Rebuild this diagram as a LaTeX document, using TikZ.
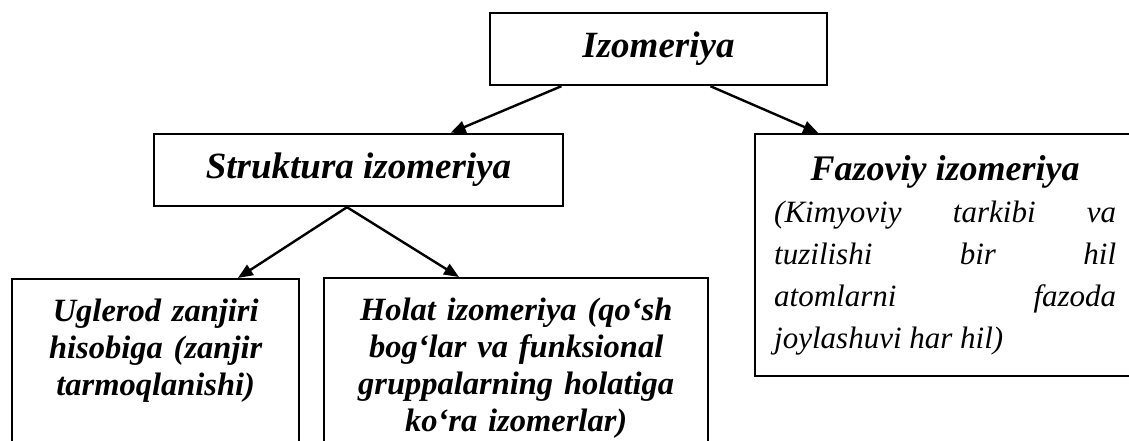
\documentclass[tikz,border=0pt]{standalone}
\usepackage{fontspec}
\setmainfont{Liberation Serif}
\usetikzlibrary{arrows.meta, calc}

\begin{document}
\begin{tikzpicture}[
  x=1pt, y=-1pt,
  box/.style={rectangle, draw=black, line width=2.4pt, inner sep=0pt, align=center, font=\bfseries\itshape\fontsize{37}{42}\selectfont},
  leaf/.style={rectangle, draw=black, line width=2.4pt, anchor=north west, inner xsep=18.5pt, inner ysep=20pt, align=center, text depth=150pt, font=\bfseries\itshape\fontsize{32.5}{37}\selectfont},
  arrow/.style={-{Triangle[length=15pt,width=12pt]}, line width=2.4pt}
]
  \useasboundingbox (0,0) rectangle (1129,441);
  \clip (0,0) rectangle (1129,441);

  % Nodes
  \node[box, minimum width=337pt, minimum height=72pt] (izo) at (658.5,49) {Izomeriya};
  \node[box, minimum width=409pt, minimum height=72pt] (str) at (358.5,170) {Struktura izomeriya};
  \node[rectangle, draw=black, line width=2.4pt, anchor=north west, text width=342pt, inner xsep=19pt, inner ysep=0pt, minimum height=242pt, align=justify, font=\itshape\fontsize{31}{42}\selectfont] (faz) at (754,133)
    {{\centering\bfseries\fontsize{36}{42}\selectfont Fazoviy izomeriya\par}
     \tolerance=10000 (Kimyoviy tarkibi va\linebreak tuzilishi bir hil\linebreak atomlarni fazoda\linebreak joylashuvi har hil)};
  \node[leaf, text width=250pt] (ugl) at (11,278) {Uglerod zanjiri\\ hisobiga (zanjir\\ tarmoqlanishi)};
  \node[leaf, text width=347pt] (hol) at (323,277) {Holat izomeriya (qoʻsh\\ bogʻlar va funksional\\ gruppalarning holatiga\\ koʻra izomerlar)};

  % Paths
  \draw[arrow] ($(izo.south west)!0.214!(izo.south east)$) -- ($(str.north west)!0.724!(str.north east)$);
  \draw[arrow] ($(izo.south west)!0.653!(izo.south east)$) -- ($(faz.north west)!0.168!(faz.north east)$);
  \draw[arrow] ($(str.south west)!0.472!(str.south east)$) -- ($(ugl.north west)!0.784!(ugl.north east)$);
  \draw[arrow] ($(str.south west)!0.472!(str.south east)$) -- ($(hol.north west)!0.352!(hol.north east)$);
\end{tikzpicture}
\end{document}
